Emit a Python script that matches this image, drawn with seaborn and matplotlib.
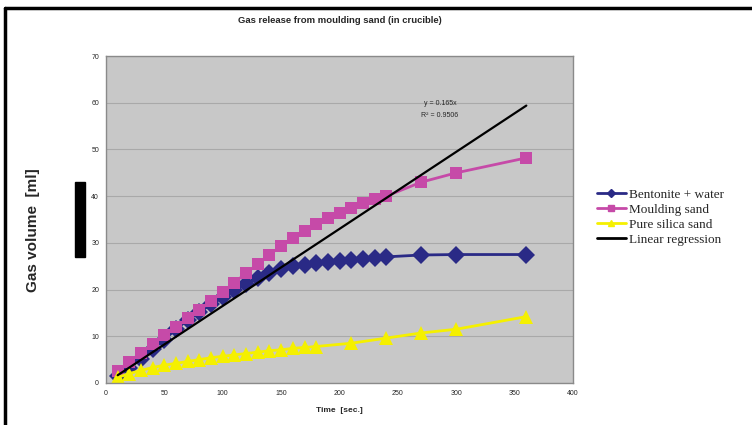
import numpy as np
import pandas as pd
import matplotlib
matplotlib.use("Agg")
import matplotlib.pyplot as plt
from matplotlib.patches import Rectangle
from matplotlib.lines import Line2D
import seaborn as sns

# data
t_dense = [10, 20, 30, 40, 50, 60, 70, 80, 90, 100, 110, 120, 130, 140, 150,
           160, 170, 180, 190, 200, 210, 220, 230, 240]
t_tail = [270, 300, 360]

bentonite = [1.5, 3.3, 5.2, 7.2, 9.3, 11.5, 13.5, 15.2, 16.8, 18.3, 19.8, 21.2,
             22.5, 23.6, 24.4, 25.0, 25.3, 25.6, 26.0, 26.2, 26.4, 26.6, 26.8, 27.0,
             27.4, 27.5, 27.5]
moulding = [2.5, 4.5, 6.5, 8.3, 10.2, 12.0, 13.8, 15.6, 17.5, 19.5, 21.5, 23.5,
            25.5, 27.5, 29.3, 31.0, 32.5, 34.0, 35.3, 36.5, 37.5, 38.5, 39.3, 40.0,
            43.0, 45.0, 48.2]
silica_t = t_dense[:18] + [210, 240, 270, 300, 360]
silica = [1.2, 2.0, 2.7, 3.3, 3.8, 4.2, 4.6, 5.0, 5.4, 5.7, 6.0, 6.3, 6.6, 6.9,
          7.1, 7.4, 7.6, 7.8, 8.5, 9.6, 10.7, 11.5, 14.2]

reg_slope = 0.165
reg_r2 = 0.9506
reg_x = np.array([10, 360])

series_names = ["Bentonite + water", "Moulding sand", "Pure silica sand", "Linear regression"]
colors = ["#2a2a86", "#c64aa8", "#f5f000", "#000000"]

sns.set_style("white")
plt.rcParams['font.family'] = ['Liberation Sans', 'DejaVu Sans']

fig = plt.figure(figsize=(7.52, 4.25), dpi=100)
ax = fig.add_axes([0.141, 0.099, 0.621, 0.769])
ax.set_facecolor("#c8c8c8")

sns.lineplot(x=t_dense + t_tail, y=bentonite, ax=ax, color=colors[0], marker="D",
             markersize=9, markeredgewidth=0, linewidth=2)
sns.lineplot(x=t_dense + t_tail, y=moulding, ax=ax, color=colors[1], marker="s",
             markersize=9, markeredgewidth=0, linewidth=2)
sns.lineplot(x=silica_t, y=silica, ax=ax, color=colors[2], marker="^",
             markersize=10, markeredgewidth=0, linewidth=2)
sns.lineplot(x=reg_x, y=reg_slope * reg_x, ax=ax, color=colors[3], linewidth=1.6)

ax.set_xlim(0, 400)
ax.set_ylim(0, 70)
ax.set_xticks(range(0, 401, 50))
ax.set_yticks(range(0, 71, 10))
ax.grid(axis="y", color="#a9a9a9", linewidth=0.8)
ax.set_axisbelow(True)
for s in ax.spines.values():
    s.set_color("#8a8a8a")
    s.set_linewidth(1)
ax.tick_params(labelsize=5, length=2, color="#8a8a8a", pad=3)

ax.set_xlabel("Time  [sec.]", fontsize=6, fontweight="bold", labelpad=7)
ax.set_ylabel("Gas volume  [ml]", fontsize=11, fontweight="bold")
ax.yaxis.set_label_coords(-0.142, 0.468)
ax.set_title("Gas release from moulding sand (in crucible)", fontsize=6.8,
             fontweight="bold", pad=24)

ax.text(286, 59.9, f"y = {reg_slope}x", fontsize=5, ha="center", va="center")
ax.text(286, 57.3, f"R² = {reg_r2}", fontsize=5, ha="center", va="center")

handles = [
    Line2D([], [], color=colors[0], marker="D", markersize=4, linewidth=2),
    Line2D([], [], color=colors[1], marker="s", markersize=4, linewidth=2),
    Line2D([], [], color=colors[2], marker="^", markersize=4, linewidth=2),
    Line2D([], [], color=colors[3], linewidth=2),
]
leg = fig.legend(handles, series_names, loc="center left", bbox_to_anchor=(0.778, 0.489),
                 frameon=False, prop={"family": "Liberation Serif", "size": 9.5},
                 handlelength=2.2, handletextpad=0.2, labelspacing=0.22)

# black marker bar and page frame
fig.patches.append(Rectangle((75 / 752, 1 - 257 / 425), 10 / 752, 75 / 425,
                             transform=fig.transFigure, color="black"))
fig.add_artist(Line2D([5 / 752, 5 / 752], [0, 1 - 8 / 425], transform=fig.transFigure,
                      color="black", linewidth=2.5))
fig.add_artist(Line2D([5 / 752, 1], [1 - 8 / 425, 1 - 8 / 425], transform=fig.transFigure,
                      color="black", linewidth=2.5))

fig.savefig("out.png", dpi=100)
